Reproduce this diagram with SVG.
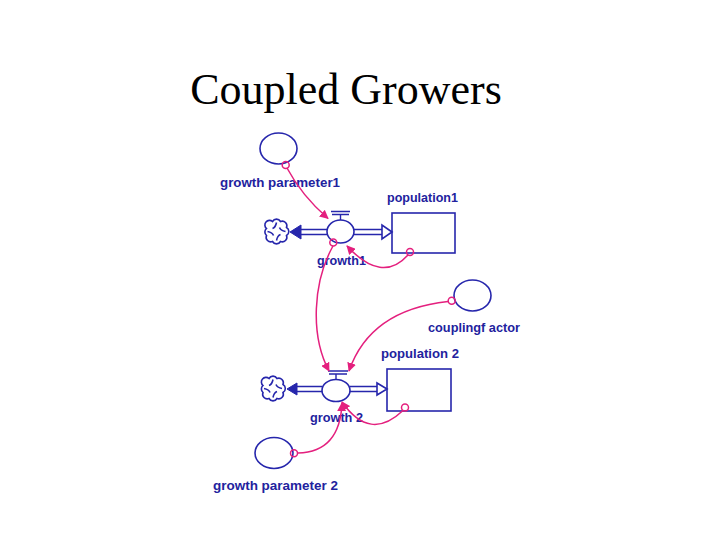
<svg xmlns="http://www.w3.org/2000/svg" width="720" height="540" viewBox="0 0 720 540">
<style>
.title{font-family:"Liberation Serif","Times New Roman",serif;font-size:44px;fill:#000}
.lbl{font-family:"Liberation Sans",Arial,sans-serif;font-size:13px;font-weight:bold;fill:#22229e}
.blue{fill:none;stroke:#2626ac;stroke-width:1.6}
.bluefill{fill:#fff;stroke:#2626ac;stroke-width:1.6}
.pipe{stroke:#2626ac;stroke-width:1.4;fill:none}
.con{fill:none;stroke:#e4207e;stroke-width:1.5}
.dot{fill:none;stroke:#e4207e;stroke-width:1.5}
</style>
<defs>
<marker id="arr" viewBox="0 0 10 10" refX="9" refY="5" markerWidth="9" markerHeight="9" markerUnits="userSpaceOnUse" orient="auto">
<path d="M0,0 L10,5 L0,10 z" fill="#e4207e"/>
</marker>
<g id="cloud">
<path class="blue" d="M-10,-3 a4.6,4.6 0 0 1 6,-7 a4.6,4.6 0 0 1 8,0 a4.6,4.6 0 0 1 6,6 a4.6,4.6 0 0 1 0,8 a4.6,4.6 0 0 1 -6,6 a4.6,4.6 0 0 1 -8,0 a4.6,4.6 0 0 1 -6,-6 a4.6,4.6 0 0 1 0,-7 z"/>
<path class="blue" d="M0,-9 q-1,5 -4,6 M9,0 q-5,-1 -6,-4 M0,9 q1,-5 4,-6 M-9,0 q5,1 6,4"/>
</g>
</defs>
<rect width="720" height="540" fill="#fff"/>
<text class="title" x="346" y="104" text-anchor="middle">Coupled Growers</text>

<g id="growth-parameter1">
<ellipse class="blue" cx="278.5" cy="148.5" rx="18.5" ry="15.5"/>
<text class="lbl" x="220" y="186.5" textLength="120" lengthAdjust="spacingAndGlyphs">growth parameter1</text>
</g>
<g id="population1">
<rect class="blue" x="392" y="213" width="63" height="40"/>
<text class="lbl" x="387" y="201.5" textLength="71" lengthAdjust="spacingAndGlyphs">population1</text>
</g>
<g id="cloud1"><use href="#cloud" x="276.5" y="231.5"/></g>
<g id="growth1">
<path class="pipe" d="M301,229.5 H327 M301,234.5 H327 M354,229.5 H382 M354,234.5 H382"/>
<polygon points="290,232 301,225 301,239" fill="#2626ac" stroke="#2626ac" stroke-width="1"/>
<polygon class="bluefill" points="392,232 382,225 382,239"/>
<path class="pipe" d="M331,211.5 H350 M332,214.5 H349 M340.5,214.5 V220"/>
<ellipse class="bluefill" cx="340.5" cy="231.5" rx="13.5" ry="11.5"/>
<text class="lbl" x="317" y="265" textLength="49" lengthAdjust="spacingAndGlyphs">growth1</text>
</g>
<g id="couplingfactor">
<ellipse class="blue" cx="472.5" cy="295.5" rx="18.5" ry="15.5"/>
<text class="lbl" x="428" y="331.5" textLength="92" lengthAdjust="spacingAndGlyphs">couplingf actor</text>
</g>
<g id="population2">
<rect class="blue" x="387" y="369" width="64" height="42"/>
<text class="lbl" x="381" y="358" textLength="78" lengthAdjust="spacingAndGlyphs">population 2</text>
</g>
<g id="cloud2"><use href="#cloud" x="273" y="388.5"/></g>
<g id="growth2">
<path class="pipe" d="M297,386.5 H322 M297,391.5 H322 M350,386.5 H377 M350,391.5 H377"/>
<polygon points="287,389 297,383 297,395" fill="#2626ac" stroke="#2626ac" stroke-width="1"/>
<polygon class="bluefill" points="387,389 377,383 377,395"/>
<path class="pipe" d="M328,371 H348 M329,374 H347 M336,374 V379.5"/>
<ellipse class="bluefill" cx="336" cy="390.5" rx="14" ry="11"/>
<text class="lbl" x="310" y="422" textLength="53" lengthAdjust="spacingAndGlyphs">growth 2</text>
</g>
<g id="growth-parameter2">
<ellipse class="blue" cx="274" cy="453" rx="19" ry="15.5"/>
<text class="lbl" x="213" y="490" textLength="125" lengthAdjust="spacingAndGlyphs">growth parameter 2</text>
</g>

<g id="connectors">
<path class="con" d="M287,168 Q302,196 328,218.5" marker-end="url(#arr)"/>
<circle class="dot" cx="285.7" cy="165" r="3.5"/>
<path class="con" d="M333,246 C313,282 310,335 329,371" marker-end="url(#arr)"/>
<circle class="dot" cx="333.3" cy="242.5" r="3.5"/>
<path class="con" d="M408,255 Q382,284 347,246" marker-end="url(#arr)"/>
<circle class="dot" cx="410" cy="252" r="3.5"/>
<path class="con" d="M448,301.5 Q370,310 349,371" marker-end="url(#arr)"/>
<circle class="dot" cx="451.7" cy="300.7" r="3.5"/>
<path class="con" d="M403,410.5 Q370,442 342,402" marker-end="url(#arr)"/>
<circle class="dot" cx="405" cy="407.5" r="3.5"/>
<path class="con" d="M298,453 Q340,452 342,403" marker-end="url(#arr)"/>
<circle class="dot" cx="294" cy="453.3" r="3.5"/>
</g>
</svg>
